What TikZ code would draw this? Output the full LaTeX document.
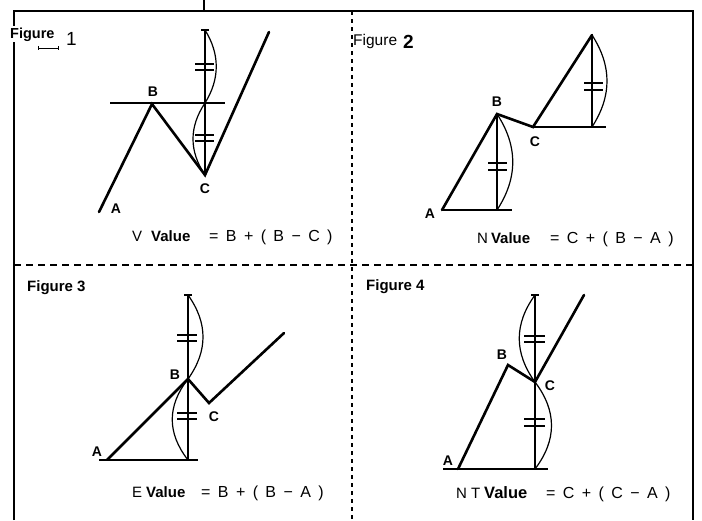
\documentclass[tikz,border=0pt]{standalone}
\usepackage{fontspec}
\setmainfont{Liberation Sans}
\usetikzlibrary{calc}
\newcommand\fgap{\hspace{7.4pt}}
\begin{document}
\begin{tikzpicture}[x=1pt,y=-1pt,
  price/.style={line width=2.6pt,line join=miter,line cap=round},
  meas/.style={line width=1.7pt},
  arcline/.style={line width=1.2pt},
  tickmark/.style={line width=1.4pt},
  frame/.style={line width=1.9pt},
  divider/.style={line width=1.2pt},
  ptlabel/.style={font=\bfseries\fontsize{14}{14}\selectfont,inner sep=0pt},
  figlabel/.style={font=\bfseries\fontsize{15}{15}\selectfont,inner sep=1pt,anchor=base west},
  formula/.style={font=\fontsize{16}{16}\selectfont,inner sep=0pt,anchor=base west},
  vallabel/.style={font=\fontsize{15}{15}\selectfont,inner sep=0pt,anchor=base west}]
\useasboundingbox (0,0) rectangle (702,520);
% frame and dividers
\draw[frame] (14,520) -- (14,11) -- (693,11) -- (693,520);
\draw[frame] (204,0) -- (204,11);
\draw[divider,dash pattern=on 4pt off 4pt] (352,11) -- (352,520);
\draw[divider,dash pattern=on 7pt off 5pt] (14,265) -- (693,265);

% ---------------- Figure 1 ----------------
\node[figlabel,font=\bfseries\fontsize{14.5}{14.5}\selectfont,fill=white] (f1) at (9,38) {Figure};
\node[font=\fontsize{19}{19}\selectfont,inner sep=0pt,anchor=base west] (n1) at (66,45) {1};
\draw[line width=1pt] (38,48) -- (58,48);
\draw[line width=1pt] (38,46) -- (38,50) (58,46) -- (58,50);
\coordinate (A1) at (99,212);
\coordinate (B1) at (152,104);
\coordinate (C1) at (205,175);
\coordinate (E1) at (269,32);
\coordinate (T1) at (205,30);
\coordinate (H1) at (205,103);
\coordinate (HL1) at (110,103);
\coordinate (HR1) at (225,103);
\draw[meas] (HL1) -- (HR1);
\draw[meas] (T1) -- (C1);
\draw[meas] ($(T1)+(-4,0)$) -- ($(T1)+(4,0)$);
\draw[arcline] (T1) .. controls +(15,24) and +(15,-24) .. (H1);
\draw[arcline] (H1) .. controls +(-16,24) and +(-16,-24) .. (C1);
\draw[tickmark] (195,64) -- (214,64) (195,70) -- (214,70);
\draw[tickmark] (195,135) -- (214,135) (195,141) -- (214,141);
\draw[price] (A1) -- (B1) -- (C1) -- (E1);
\node[ptlabel] (lB1) at (153,92) {B};
\node[ptlabel] (lC1) at (205,189) {C};
\node[ptlabel] (lA1) at (116,209) {A};
\node[vallabel] (v1) at (132,241) {V\hspace{9pt}\textbf{Value}};
\node[formula] (q1) at (209,241) {=\fgap B\fgap+\fgap(\fgap B\fgap−\fgap C\fgap)};

% ---------------- Figure 2 ----------------
\node[figlabel,font=\fontsize{15.5}{15.5}\selectfont] (f2) at (352,45) {Figure};
\node[font=\bfseries\fontsize{19}{19}\selectfont,inner sep=0pt,anchor=base west] (n2) at (403,48) {2};
\coordinate (A2) at (442,210);
\coordinate (F2) at (497,210);
\coordinate (R2) at (512,210);
\coordinate (B2) at (497,114);
\coordinate (C2) at (533,127);
\coordinate (G2) at (592,127);
\coordinate (S2) at (606,127);
\coordinate (E2) at (592,35);
\draw[meas] (A2) -- (R2);
\draw[meas] (B2) -- (F2);
\draw[meas] (C2) -- (S2);
\draw[meas] (E2) -- (G2);
\draw[arcline] (B2) .. controls +(21,32) and +(21,-32) .. (F2);
\draw[arcline] (E2) .. controls +(20,31) and +(20,-31) .. (G2);
\draw[tickmark] (488,163) -- (507,163) (488,170) -- (507,170);
\draw[tickmark] (584,83) -- (603,83) (584,90) -- (603,90);
\draw[price] (A2) -- (B2) -- (C2) -- (E2);
\node[ptlabel] (lB2) at (497,102) {B};
\node[ptlabel] (lC2) at (535,142) {C};
\node[ptlabel] (lA2) at (430,214) {A};
\node[vallabel] (v2) at (477,243) {N\hspace{3pt}\textbf{Value}};
\node[formula] (q2) at (550,243) {=\fgap C\fgap+\fgap(\fgap B\fgap−\fgap A\fgap)};

% ---------------- Figure 3 ----------------
\node[figlabel] (f3) at (26,291) {Figure 3};
\coordinate (T3) at (188,295);
\coordinate (B3) at (188,379);
\coordinate (F3) at (188,460);
\coordinate (A3) at (107,460);
\coordinate (L3) at (99,460);
\coordinate (R3) at (198,460);
\coordinate (C3) at (209,403);
\coordinate (E3) at (284,333);
\draw[meas] (L3) -- (R3);
\draw[meas] (T3) -- (F3);
\draw[meas] ($(T3)+(-4,0)$) -- ($(T3)+(4,0)$);
\draw[arcline] (T3) .. controls +(20,28) and +(20,-28) .. (B3);
\draw[arcline] (B3) .. controls +(-21,27) and +(-21,-27) .. (F3);
\draw[tickmark] (177,335) -- (197,335) (177,341) -- (197,341);
\draw[tickmark] (177,413) -- (197,413) (177,419) -- (197,419);
\draw[price] (A3) -- (B3) -- (C3) -- (E3);
\node[ptlabel] (lB3) at (175,375) {B};
\node[ptlabel] (lC3) at (214,417) {C};
\node[ptlabel] (lA3) at (97,452) {A};
\node[vallabel] (v3) at (132,497) {E\hspace{4pt}\textbf{Value}};
\node[formula] (q3) at (201,497) {=\fgap B\fgap+\fgap(\fgap B\fgap−\fgap A\fgap)};

% ---------------- Figure 4 ----------------
\node[figlabel] (f4) at (365,290) {Figure 4};
\coordinate (T4) at (535,295);
\coordinate (C4) at (535,382);
\coordinate (F4) at (535,469);
\coordinate (A4) at (458,469);
\coordinate (L4) at (443,469);
\coordinate (R4) at (548,469);
\coordinate (B4) at (508,365);
\coordinate (E4) at (584,295);
\draw[meas] (L4) -- (R4);
\draw[meas] (T4) -- (F4);
\draw[meas] ($(T4)+(-4,0)$) -- ($(T4)+(4,0)$);
\draw[arcline] (T4) .. controls +(-21,29) and +(-21,-29) .. (C4);
\draw[arcline] (C4) .. controls +(22,29) and +(22,-29) .. (F4);
\draw[tickmark] (524,336) -- (545,336) (524,342) -- (545,342);
\draw[tickmark] (524,419) -- (545,419) (524,426) -- (545,426);
\draw[price] (A4) -- (B4) -- (C4) -- (E4);
\node[ptlabel] (lB4) at (502,355) {B};
\node[ptlabel] (lC4) at (550,386) {C};
\node[ptlabel] (lA4) at (448,461) {A};
\node[vallabel] (v4) at (456,498) {N\hspace{4pt}T\hspace{4pt}\textbf{\fontsize{16.5}{16.5}\selectfont Value}};
\node[formula] (q4) at (546,498) {=\fgap C\fgap+\fgap(\fgap C\fgap−\fgap A\fgap)};
\end{tikzpicture}
\end{document}
